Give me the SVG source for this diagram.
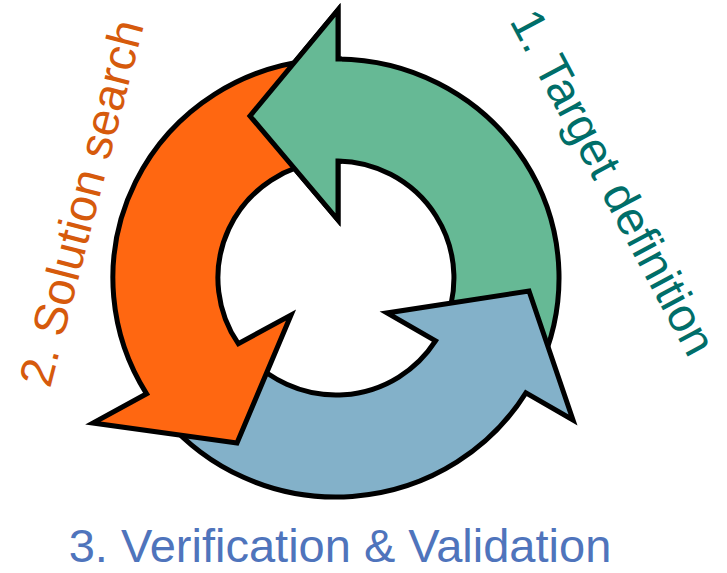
<svg xmlns="http://www.w3.org/2000/svg" xmlns:xlink="http://www.w3.org/1999/xlink" width="727" height="573" viewBox="0 0 727 573">
  <style>
    .arrow { stroke: #000; stroke-width: 5; stroke-linejoin: miter; stroke-miterlimit: 6; }
    .green { fill: #66B995; }
    .orange { fill: #FF6711; }
    .blue { fill: #83B1C9; }
    .label { font-family: "Liberation Sans", Arial, sans-serif; font-size: 47px; text-anchor: middle; }
  </style>
  <defs>
    <!-- region around the head of the first arrow, redrawn on top so it covers the tail of arrow 2 -->
    <clipPath id="head-clip">
      <rect x="225" y="0" width="117" height="240"/>
    </clipPath>
  </defs>

  <g id="cycle">
    <g id="stage-1-target">
      <path id="arrow-1" class="arrow green"
            d="M 338,59 A 223 219 0 0 1 538.1,370.6 L 442.9,327.4 A 118 117 0 0 0 338,161 L 338,220 L 250,116 L 338,10 Z"/>
    </g>
    <g id="stage-3-verification">
      <path id="arrow-3" class="arrow blue"
            d="M 165.2,418.8 A 223 219 0 0 0 525.9,392.9 L 573,420 L 529,291 L 387,313 L 435.5,340.9 A 118 117 0 0 1 245.6,353.2 Z"/>
    </g>
    <g id="stage-2-solution">
      <path id="arrow-2" class="arrow orange"
            d="M 312.7,60.2 A 223 219 0 0 0 146.6,393.8 L 93,423 L 237,443 L 291,315 L 238.3,343.7 A 118 117 0 0 1 323.7,161.6 Z"/>
    </g>
    <use id="arrow-1-head" href="#arrow-1" xlink:href="#arrow-1" clip-path="url(#head-clip)"/>
  </g>

  <g id="labels">
    <text id="label-1" class="label" fill="#006E69" transform="translate(599,190) rotate(62)">1. Target definition</text>
    <text id="label-2" class="label" fill="#D65A0C" transform="translate(97,207) rotate(-75.5)">2. Solution search</text>
    <text id="label-3" class="label" fill="#4F74BC" x="340" y="562">3. Verification &amp; Validation</text>
  </g>
</svg>
